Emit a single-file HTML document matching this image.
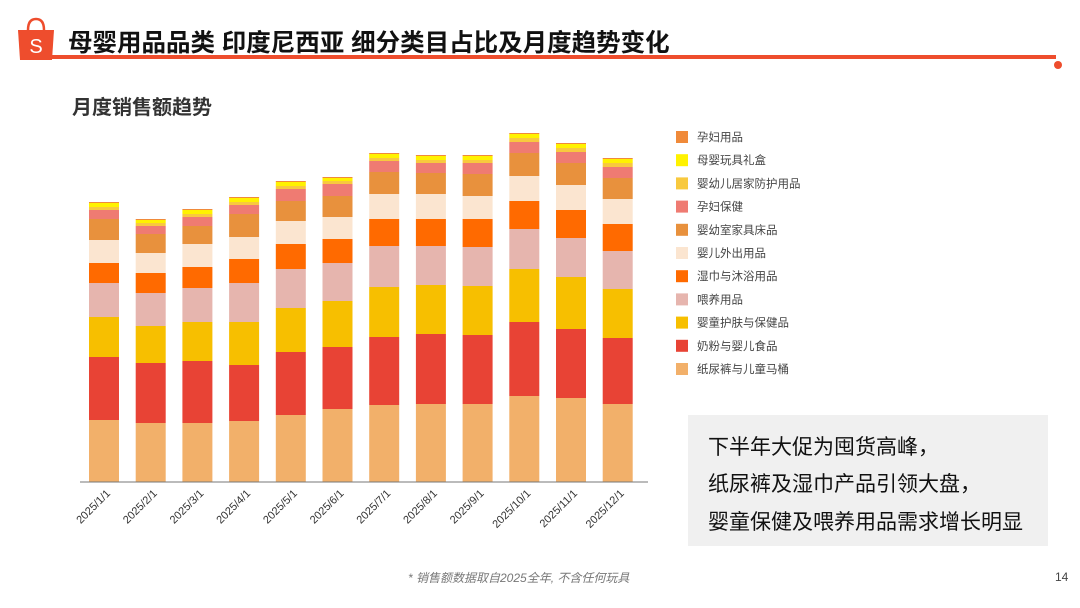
<!DOCTYPE html>
<html><head><meta charset="utf-8"><style>
body{margin:0;background:#fff;}
#root{position:relative;width:1080px;height:608px;overflow:hidden;background:#fff;font-family:"Liberation Sans","Noto Sans CJK SC",sans-serif;}
.title{position:absolute;left:68px;top:24px;font-size:24.5px;font-weight:bold;color:#111;white-space:nowrap;}
.sub{position:absolute;left:72px;top:91px;font-size:20px;font-weight:bold;color:#333;}
.box{position:absolute;left:688px;top:415px;width:360px;height:131px;background:#f0f0f0;}
.box div{position:absolute;left:20px;font-size:21px;color:#111;white-space:nowrap;}
.foot{position:absolute;left:408px;top:569px;font-size:12px;font-style:italic;color:#777;}
.pg{position:absolute;left:1055px;top:570px;font-size:12px;color:#444;}
</style></head><body>
<div id="root">
<svg width="1080" height="608" style="position:absolute;left:0;top:0">
<path d="M18 30 h36 l-2 30 h-32 z" fill="#ee4d2d"/>
<path d="M28 30 q0 -11 8 -11 q8 0 8 11" fill="none" stroke="#ee4d2d" stroke-width="2.5"/>
<text x="36" y="53" font-size="20" fill="#fff" text-anchor="middle" font-family="Liberation Sans">S</text>
<rect x="50" y="55" width="1006" height="4" fill="#ee4d2d"/>
<circle cx="1058" cy="65" r="4" fill="#ee4d2d"/>
</svg>
<div class="title">母婴用品品类 印度尼西亚 细分类目占比及月度趋势变化</div>
<div class="sub">月度销售额趋势</div>
<svg id="chart" width="1080" height="608" style="position:absolute;left:0;top:0"></svg>
<div class="box">
<div style="top:16px">下半年大促为囤货高峰，</div>
<div style="top:53px">纸尿裤及湿巾产品引领大盘，</div>
<div style="top:91px">婴童保健及喂养用品需求增长明显</div>
</div>
<div class="foot">* 销售额数据取自2025全年, 不含任何玩具</div>
<div class="pg">14</div>
</div>
<script>
const categories=["2025/1/1","2025/2/1","2025/3/1","2025/4/1","2025/5/1","2025/6/1","2025/7/1","2025/8/1","2025/9/1","2025/10/1","2025/11/1","2025/12/1"];
const seriesNames=["纸尿裤与儿童马桶","奶粉与婴儿食品","婴童护肤与保健品","喂养用品","湿巾与沐浴用品","婴儿外出用品","婴幼室家具床品","孕妇保健","婴幼儿居家防护用品","母婴玩具礼盒","孕妇用品"];
const seriesColors=["#f2b06a","#e84335","#f7bf00","#e6b5ae","#ff6a00","#fbe5d0","#e8913d","#ef7b72","#f8c93e","#fff200","#f08a3a"];
const diapers=[62,59,59,61,67,73,77,78,78,86,84,78];
const milk=[63,60,62,56,63,62,68,70,69,74,69,66];
const skincare=[40,37,39,43,44,46,50,49,49,53,52,49];
const feeding=[34,33,34,39,39,38,41,39,39,40,39,38];
const wipes=[20,20,21,24,25,24,27,27,28,28,28,27];
const outdoor=[23,20,23,22,23,22,25,25,23,25,25,25];
const furniture=[21,19,18,23,20,21,22,21,22,23,22,21];
const maternalCare=[9,8,9,9,12,12,11,10,11,11,11,11];
const homeSafety=[3,3,3,3,3,3,3,3,3,4,4,4];
const toys=[4,3,4,4,4,3,4,4,4,4,4,4];
const maternity=[1,1,1,1,1,1,1,1,1,1,1,1];
const series=[diapers,milk,skincare,feeding,wipes,outdoor,furniture,maternalCare,homeSafety,toys,maternity];
const NS="http://www.w3.org/2000/svg";
const svg=document.getElementById("chart");
const x0=80,x1=648,baseY=482,plotH=360,maxV=360;
const firstC=104,stepC=46.7;
function xC(i){return firstC+stepC*i;}
function yS(v){return baseY-v/maxV*plotH;}
function mk(t,a){const e=document.createElementNS(NS,t);for(const k in a)e.setAttribute(k,a[k]);svg.appendChild(e);return e;}
categories.forEach((c,i)=>{
 let cum=0;
 series.forEach((s,j)=>{
  const r=mk("rect",{x:xC(i)-15,y:yS(cum+s[i]),width:30,height:yS(cum)-yS(cum+s[i]),fill:seriesColors[j]});
  
  
  cum+=s[i];
 });
 const t=mk("text",{x:xC(i)+7,y:baseY+12,"font-size":"11","fill":"#333","text-anchor":"end",transform:`rotate(-45 ${xC(i)+7} ${baseY+12})`,"font-family":"Liberation Sans"});
 t.textContent=c;
 
 
});
const ax=mk("line",{x1:x0,y1:baseY,x2:x1,y2:baseY,stroke:"#777","stroke-width":"1"});


for(let k=0;k<seriesNames.length;k++){
 const j=seriesNames.length-1-k;
 const y=137+k*23.2;
 const r=mk("rect",{x:676,y:y-6,width:12,height:12,fill:seriesColors[j]});
 
 
 const t=mk("text",{x:697,y:y+4,"font-size":"11.5","fill":"#444","font-family":"Liberation Sans, Noto Sans CJK SC, sans-serif"});
 t.textContent=seriesNames[j];
 
 
}
</script>
</body></html>
